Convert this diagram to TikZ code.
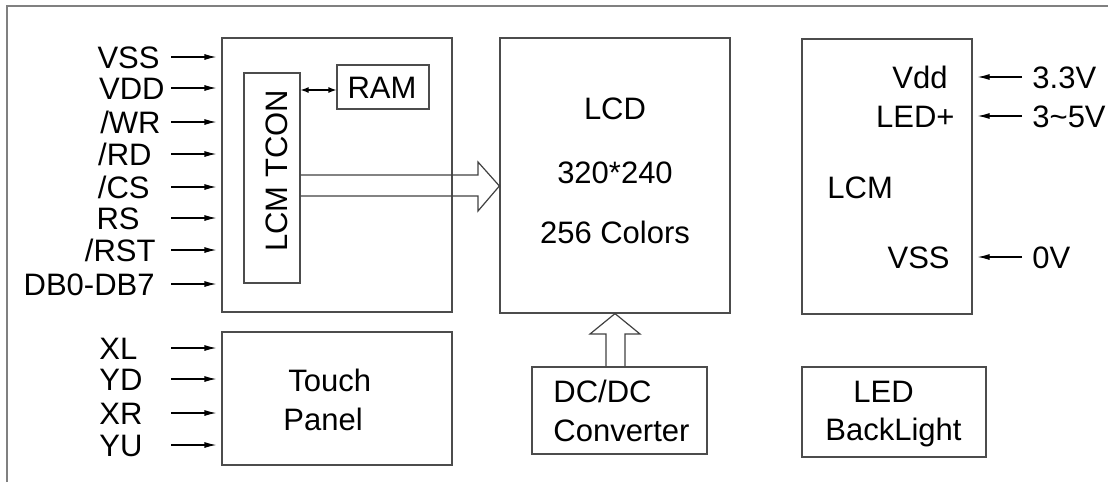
\documentclass[tikz,border=0pt]{standalone}
\usepackage{fontspec}
\setmainfont{Liberation Sans}
\usepackage{tikz}
\usetikzlibrary{arrows.meta,fit}

\begin{document}
\begin{tikzpicture}[x=0.5pt,y=-0.5pt,font=\fontsize{15.5}{18}\selectfont]
\tikzstyle{blk}=[draw=black!70,line width=0.6pt,inner sep=0pt]
\tikzstyle{txt}=[inner sep=0pt]
\tikzstyle{sig}=[-{Latex[length=6pt,width=3pt]},line width=0.6pt]
\tikzstyle{fat}=[draw=black!75,line width=0.6pt]

\useasboundingbox (0,0) rectangle (1108,482);
\draw[gray,line width=1pt] (7,482) -- (7,6) -- (1108,6);

% blocks
\node[blk,fit={(222,38) (452,312)}] (ctrl) {};
\node[blk,fit={(244,73) (300,283)}] (tcon) {};
\node[blk,fit={(337,65) (429,109)}] (ram) {};
\node[blk,fit={(500,38) (730,313)}] (lcd) {};
\node[blk,fit={(802,39) (972,314)}] (lcm) {};
\node[blk,fit={(222,332) (452,465)}] (touch) {};
\node[blk,fit={(532,367) (707,454)}] (dcdc) {};
\node[blk,fit={(802,367) (986,457)}] (led) {};

% texts in the blocks
\node[txt,rotate=90,anchor=base] (tcontxt) at (287,171) {LCM TCON};
\node[txt,anchor=base] (ramtxt) at (382,98) {RAM};
\node[txt,anchor=base] (lcd1) at (615,119) {LCD};
\node[txt,anchor=base] (lcd2) at (615,183) {320*240};
\node[txt,anchor=base] (lcd3) at (615,243) {256 Colors};
\node[txt,anchor=base west] (lcmtxt) at (827,198) {LCM};
\node[txt,anchor=base west] (touch1) at (288,391) {Touch};
\node[txt,anchor=base west] (touch2) at (283,430) {Panel};
\node[txt,anchor=base west] (dc1) at (553,402) {DC/DC};
\node[txt,anchor=base west] (dc2) at (553,441) {Converter};
\node[txt,anchor=base west] (led1) at (853,402) {LED};
\node[txt,anchor=base west] (led2) at (825,440) {BackLight};

% bus signals
\foreach \t/\y/\r [count=\i] in {VSS/57/160, VDD/88/165, {/WR}/122/161, {/RD}/154/152, {/CS}/187/150, RS/218/140, {/RST}/250/156, DB0-DB7/284/155}
{
    \node[txt,anchor=base east] (pin\i) at (\r,\y+11) {\t};
    \coordinate (src\i) at (171,\y);
    \draw[sig] (src\i) -- ([xshift=-2.5pt]ctrl.west |- src\i);
}

% touch lines
\foreach \t/\y [count=\i] in {XL/348, YD/379, XR/413, YU/445}
{
    \node[txt,anchor=base west] (tp\i) at (99,\y+11) {\t};
    \coordinate (tsrc\i) at (171,\y);
    \draw[sig] (tsrc\i) -- ([xshift=-2.5pt]touch.west |- tsrc\i);
}

% supplies
\foreach \t/\v/\y/\r [count=\i] in {Vdd/3.3V/77/948, LED+/3\textasciitilde5V/116/955, VSS/0V/257/950}
{
    \node[txt,anchor=base east] (pw\i) at (\r,\y+11) {\t};
    \node[txt,anchor=base west] (sup\i) at (1032,\y+11) {\v};
    \coordinate (ssrc\i) at (1022,\y);
    \draw[sig] (ssrc\i) -- ([xshift=2.5pt]lcm.east |- ssrc\i);
}

\draw[{Latex[length=4pt,width=3pt]}-{Latex[length=4pt,width=3pt]},line width=0.6pt] (tcon.east |- 0,90) -- (ram.west |- 0,90);

% wide arrows
\draw[fat] (tcon.east |- 0,175) -- (478,175) -- (478,162) -- (lcd.west |- 0,186) -- (478,211) -- (478,196) -- (tcon.east |- 0,196);
\draw[fat] (dcdc.north -| 606,0) -- (606,334) -- (590,334) -- (lcd.south -| 615,0) -- (640,334) -- (625,334) -- (dcdc.north -| 625,0);
\end{tikzpicture}
\end{document}
